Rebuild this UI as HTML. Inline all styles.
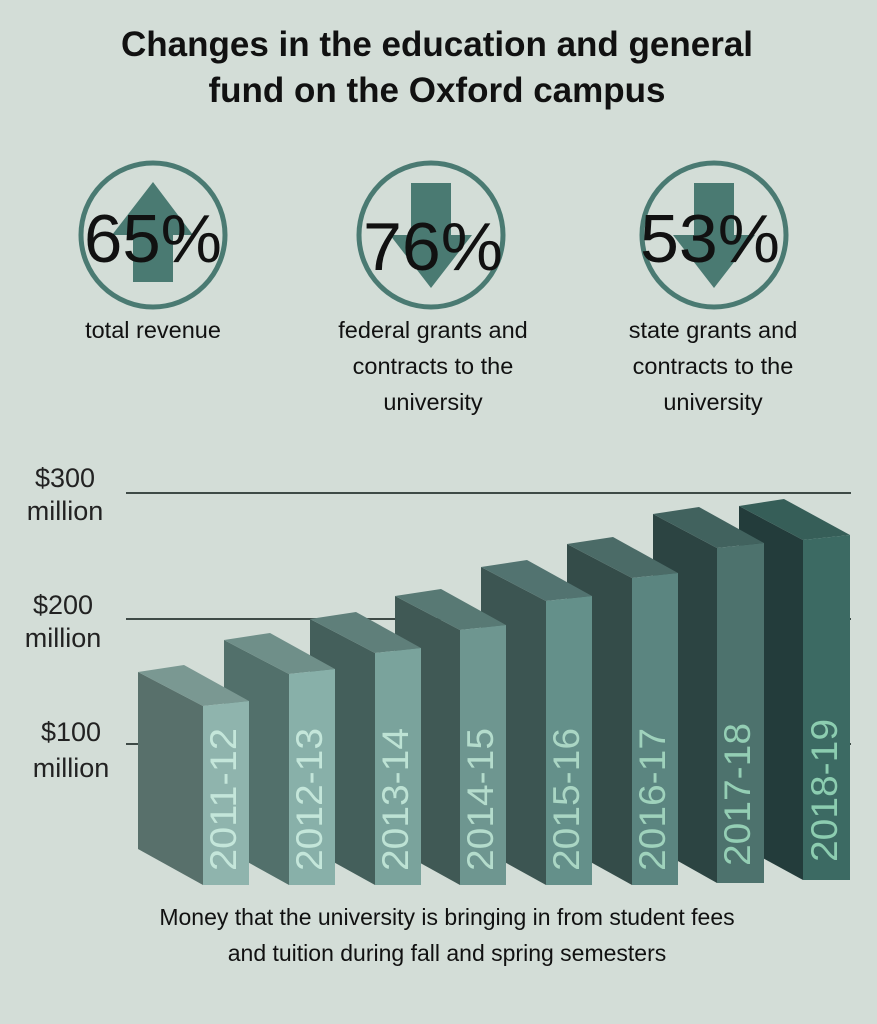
<!DOCTYPE html>
<html><head><style>
html,body{margin:0;padding:0;background:#d3ddd7;}
svg{display:block;font-family:"Liberation Sans",sans-serif;}
</style></head><body>
<svg width="877" height="1024" viewBox="0 0 877 1024">
<rect width="877" height="1024" fill="#d3ddd7"/>
<g font-weight="bold" font-size="35" fill="#111" text-anchor="middle">
<text x="437" y="56">Changes in the education and general</text>
<text x="437" y="102">fund on the Oxford campus</text>
</g>
<g fill="none" stroke="#4a7a72" stroke-width="5">
<circle cx="153" cy="235" r="72"/>
<circle cx="431" cy="235" r="72"/>
<circle cx="714" cy="235" r="72"/>
</g>
<g fill="#4a7a72">
<polygon points="153,182 193,235 173,235 173,282 133,282 133,235 112,235"/>
<polygon points="411,183 451,183 451,235 472,235 431,288 390,235 411,235"/>
<polygon points="694,183 734,183 734,235 755,235 714,288 673,235 694,235"/>
</g>
<g font-size="68" fill="#111" text-anchor="middle">
<text x="153" y="262" textLength="138" lengthAdjust="spacingAndGlyphs">65%</text>
<text x="433" y="270" textLength="140" lengthAdjust="spacingAndGlyphs">76%</text>
<text x="710" y="262" textLength="140" lengthAdjust="spacingAndGlyphs">53%</text>
</g>
<g font-size="23.5" fill="#111" text-anchor="middle">
<text x="153" y="338">total revenue</text>
<text x="433" y="338">federal grants and</text>
<text x="433" y="374">contracts to the</text>
<text x="433" y="410">university</text>
<text x="713" y="338">state grants and</text>
<text x="713" y="374">contracts to the</text>
<text x="713" y="410">university</text>
</g>
<g stroke="#3e4a46" stroke-width="2">
<line x1="126" y1="493" x2="851" y2="493"/>
<line x1="126" y1="619" x2="851" y2="619"/>
<line x1="126" y1="744" x2="851" y2="744"/>
</g>
<g font-size="27" fill="#222" text-anchor="middle">
<text x="65" y="487">$300</text><text x="65" y="520">million</text>
<text x="63" y="614">$200</text><text x="63" y="647">million</text>
<text x="71" y="741">$100</text><text x="71" y="777">million</text>
</g>
<g font-size="37">
<polygon points="739,506 803,540 803,880 739,845" fill="#233c3b"/>
<polygon points="739,506 784,499 850,535 803,540" fill="#365e58"/>
<polygon points="803,540 850,535 850,880 803,880" fill="#3c6a63"/>
<text transform="translate(837,862) rotate(-90)" fill="#8ccdb0" textLength="143" lengthAdjust="spacingAndGlyphs">2018-19</text>

<polygon points="653,514 717,548 717,883 653,847" fill="#2c4442"/>
<polygon points="653,514 699,507 764,543 717,548" fill="#41625e"/>
<polygon points="717,548 764,543 764,883 717,883" fill="#4d726d"/>
<text transform="translate(750,866) rotate(-90)" fill="#94ceb4" textLength="143" lengthAdjust="spacingAndGlyphs">2017-18</text>

<polygon points="567,544 632,578 632,885 567,849" fill="#344c49"/>
<polygon points="567,544 613,537 678,573 632,578" fill="#4b6b67"/>
<polygon points="632,578 678,573 678,885 632,885" fill="#5b8580"/>
<text transform="translate(665,871) rotate(-90)" fill="#9fd2bc" textLength="143" lengthAdjust="spacingAndGlyphs">2016-17</text>

<polygon points="481,567 546,601 546,885 481,849" fill="#3c5552"/>
<polygon points="481,567 527,560 592,596 546,601" fill="#527370"/>
<polygon points="546,601 592,596 592,885 546,885" fill="#64908a"/>
<text transform="translate(579,871) rotate(-90)" fill="#aad6c4" textLength="143" lengthAdjust="spacingAndGlyphs">2015-16</text>

<polygon points="395,596 460,630 460,885 395,849" fill="#405955"/>
<polygon points="395,596 441,589 506,625 460,630" fill="#587974"/>
<polygon points="460,630 506,625 506,885 460,885" fill="#6e9690"/>
<text transform="translate(493,871) rotate(-90)" fill="#b4dccc" textLength="143" lengthAdjust="spacingAndGlyphs">2014-15</text>

<polygon points="310,619 375,653 375,885 310,849" fill="#445f5b"/>
<polygon points="310,619 356,612 421,648 375,653" fill="#5f7f7a"/>
<polygon points="375,653 421,648 421,885 375,885" fill="#7aa39c"/>
<text transform="translate(408,871) rotate(-90)" fill="#bde2d4" textLength="143" lengthAdjust="spacingAndGlyphs">2013-14</text>

<polygon points="224,640 289,674 289,885 224,849" fill="#52706b"/>
<polygon points="224,640 270,633 335,669 289,674" fill="#6f8f89"/>
<polygon points="289,674 335,669 335,885 289,885" fill="#88b0a9"/>
<text transform="translate(322,871) rotate(-90)" fill="#c4e6da" textLength="143" lengthAdjust="spacingAndGlyphs">2012-13</text>

<polygon points="138,672 203,706 203,885 138,849" fill="#58706b"/>
<polygon points="138,672 184,665 249,701 203,706" fill="#7a9892"/>
<polygon points="203,706 249,701 249,885 203,885" fill="#8fb4ad"/>
<text transform="translate(236,871) rotate(-90)" fill="#c4e6da" textLength="143" lengthAdjust="spacingAndGlyphs">2011-12</text>
</g>
<g font-size="23" fill="#111" text-anchor="middle">
<text x="447" y="925">Money that the university is bringing in from student fees</text>
<text x="447" y="961">and tuition during fall and spring semesters</text>
</g>
</svg>
</body></html>
